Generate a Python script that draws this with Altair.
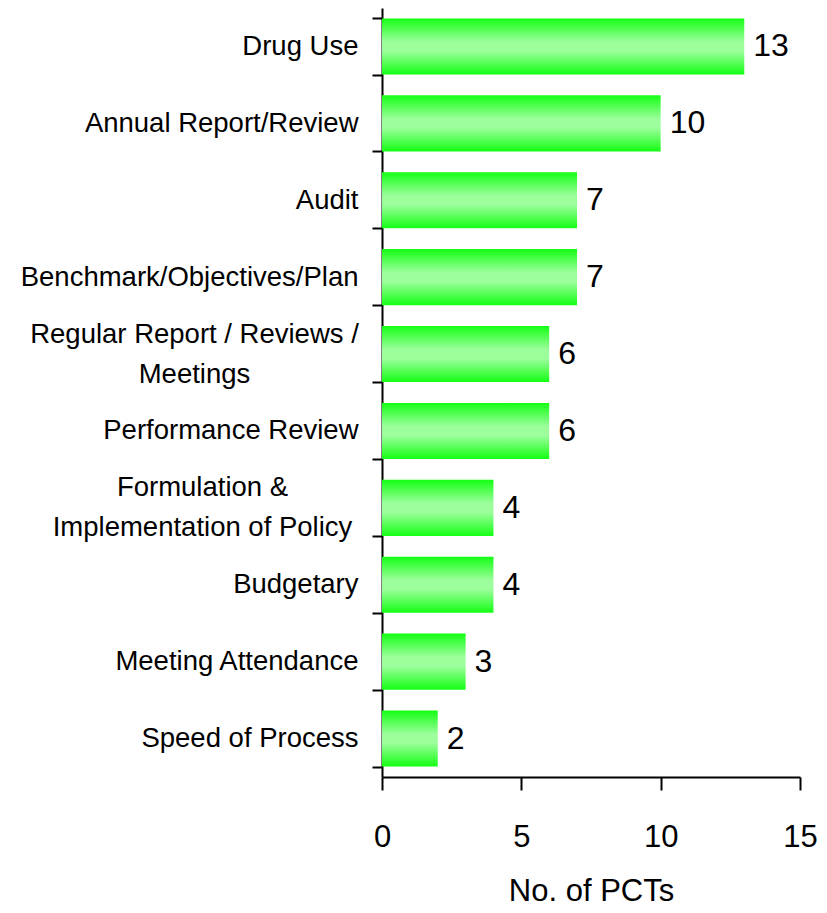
import altair as alt
import pandas as pd

# Data (top to bottom)
categories = [
    "Drug Use",
    "Annual Report/Review",
    "Audit",
    "Benchmark/Objectives/Plan",
    "Regular Report / Reviews / Meetings",
    "Performance Review",
    "Formulation & Implementation of Policy",
    "Budgetary",
    "Meeting Attendance",
    "Speed of Process",
]
counts = [13, 10, 7, 7, 6, 6, 4, 4, 3, 2]

# How the long category names wrap on the axis
wrapped = {
    "Regular Report / Reviews / Meetings": ["Regular Report / Reviews /", "Meetings"],
    "Formulation & Implementation of Policy": ["Formulation &", "Implementation of Policy"],
}

df = pd.DataFrame({"category": categories, "count": counts})

REG = "Regular Report / Reviews / Meetings"
FORM = "Formulation & Implementation of Policy"


def js_list(lines):
    return "[" + ",".join("'" + s.replace("'", "\\'") + "'" for s in lines) + "]"


label_expr = (
    f"datum.label == '{REG}' ? {js_list(wrapped[REG])} : "
    f"datum.label == '{FORM}' ? {js_list(wrapped[FORM])} : datum.label"
)
is_wrapped = f"datum.label == '{REG}' || datum.label == '{FORM}'"

gradient = alt.Gradient(
    gradient="linear",
    stops=[
        alt.GradientStop(color="#14ff14", offset=0),
        alt.GradientStop(color="#9cff9c", offset=0.42),
        alt.GradientStop(color="#9cff9c", offset=0.58),
        alt.GradientStop(color="#14ff14", offset=1),
    ],
    x1=0, x2=0, y1=0, y2=1,
)

y_enc = alt.Y(
    "category:N",
    sort=categories,
    scale=alt.Scale(paddingInner=0.27, paddingOuter=0.135),
    axis=alt.Axis(
        title=None,
        labelExpr=label_expr,
        labelFont="Liberation Sans",
        labelFontSize=27.5,
        labelColor="black",
        labelLineHeight=40,
        labelAlign={"condition": {"test": is_wrapped, "value": "center"}, "value": "right"},
        labelPadding={
            "condition": [
                {"test": f"datum.label == '{REG}'", "value": 178},
                {"test": f"datum.label == '{FORM}'", "value": 170},
            ],
            "value": 14,
        },
        labelOffset={"condition": {"test": is_wrapped, "value": -20}, "value": 0},
        labelLimit=400,
        tickSize=10,
        tickWidth=2,
        tickColor="black",
        tickBand="extent",
        domainColor="black",
        domainWidth=2,
    ),
)

x_enc = alt.X(
    "count:Q",
    scale=alt.Scale(domain=[0, 15], nice=False),
    axis=alt.Axis(
        title="No. of PCTs",
        values=[0, 5, 10, 15],
        grid=False,
        labelFlush=False,
        labelFont="Liberation Sans",
        labelFontSize=31,
        labelColor="black",
        labelPadding=32,
        tickSize=13,
        tickWidth=2,
        tickColor="black",
        domainColor="black",
        domainWidth=2,
        titleFont="Liberation Sans",
        titleFontSize=31,
        titleFontWeight="normal",
        titleColor="black",
        titlePadding=24,
    ),
)

bars = alt.Chart(df).mark_bar(color=gradient).encode(y=y_enc, x=x_enc)

texts = alt.Chart(df).mark_text(
    align="left",
    baseline="middle",
    dx=9,
    font="Liberation Sans",
    fontSize=32,
    color="black",
).encode(
    y=alt.Y("category:N", sort=categories),
    x=alt.X("count:Q"),
    text="count:Q",
)

chart = (
    alt.layer(bars, texts)
    .properties(
        width=418,
        height=769,
        autosize=alt.AutoSizeParams(type="none"),
        padding={"left": 374, "top": 0, "right": 19, "bottom": 128},
        background="white",
    )
    .configure_view(stroke=None)
)

chart.save("out.html", embed_options={"renderer": "svg", "actions": False})
